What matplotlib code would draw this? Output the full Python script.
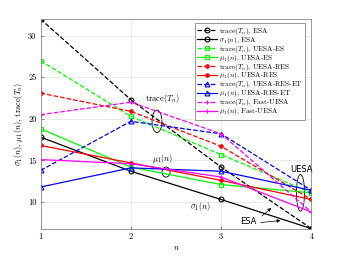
import numpy as np
import matplotlib; matplotlib.use("Agg"); import matplotlib.pyplot as plt
from matplotlib.patches import Ellipse

plt.rcParams['font.family'] = ['cmr10', 'DejaVu Serif']
plt.rcParams['mathtext.fontset'] = 'cm'
plt.rcParams['axes.unicode_minus'] = False

n = [1, 2, 3, 4]
# values
esa_tr   = [32.0, 22.3, 14.2, 6.8]
esa_sig  = [17.8, 13.7, 10.3, 6.8]
es_tr    = [27.0, 20.3, 15.7, 11.1]
es_mu    = [18.8, 14.2, 12.1, 11.1]
res_tr   = [23.1, 20.9, 16.7, 10.3]
res_mu   = [16.8, 14.7, 12.6, 10.3]
et_tr    = [13.8, 19.7, 18.2, 11.4]
et_mu    = [11.8, 14.1, 13.7, 11.4]
fast_tr  = [20.5, 22.0, 18.2, 8.8]
fast_mu  = [15.1, 14.6, 13.0, 8.8]

series = [
    (esa_tr,  'k', 'o', '--', 'trace($T_n$), ESA', 'none'),
    (esa_sig, 'k', 'o', '-',  r'$\sigma_1(n)$, ESA', 'none'),
    (es_tr,   '#00ff00', 's', '--', 'trace($T_n$), UESA-ES', 'none'),
    (es_mu,   '#00ff00', 's', '-',  r'$\mu_1(n)$, UESA-ES', 'none'),
    (res_tr,  'r', 'o', '--', 'trace($T_n$), UESA-RES', 'r'),
    (res_mu,  'r', 'o', '-',  r'$\mu_1(n)$, UESA-RES', 'r'),
    (et_tr,   'b', '^', '--', 'trace($T_n$), UESA-RES-ET', 'none'),
    (et_mu,   'b', '^', '-',  r'$\mu_1(n)$, UESA-RES-ET', 'none'),
    (fast_tr, '#ff00ff', '+', '--', 'trace($T_n$), Fast-UESA', '#ff00ff'),
    (fast_mu, '#ff00ff', '+', '-',  r'$\mu_1(n)$, Fast-UESA', '#ff00ff'),
]

fig = plt.figure(figsize=(3.44, 2.58), dpi=100)
ax = fig.add_axes([0.118, 0.114, 0.787, 0.812])
for y, c, m, ls, lab, fc in series:
    ms = 2.5 if m == 'o' and fc != 'none' else 3.5
    ax.plot(n, y, color=c, ls=ls, marker=m, ms=ms, mfc=fc, mec=c, mew=0.8, lw=0.9, label=lab)

ax.set_xlim(1, 4); ax.set_ylim(6.8, 32.0)
ax.set_xticks([1, 2, 3, 4]); ax.set_yticks([10, 15, 20, 25, 30])
ax.tick_params(direction='in', labelsize=6, length=2.5, color='#888888', pad=3)
ax.grid(True, color='#e3e3e3', lw=0.5)
for s in ax.spines.values():
    s.set_color('#888888'); s.set_linewidth(0.6)
ax.set_xlabel('$n$', fontsize=6, labelpad=2)
ax.set_ylabel(r'$\sigma_1(n)$, $\mu_1(n)$, trace($T_n$)', fontsize=6, labelpad=2)

leg = ax.legend(loc='upper right', bbox_to_anchor=(0.977, 0.981), fontsize=5.2,
                handlelength=2.8, handletextpad=0.2, labelspacing=-0.28,
                borderpad=0.35, borderaxespad=0, fancybox=False, framealpha=1)
leg.get_frame().set_edgecolor('#888888'); leg.get_frame().set_linewidth(0.6)

# annotation ellipses and labels
for cx, cy, w, h in [(2.29, 19.7, 0.11, 2.7), (2.39, 13.6, 0.09, 1.2), (3.88, 11.1, 0.09, 4.4)]:
    ax.add_patch(Ellipse((cx, cy), w, h, fill=False, ec='k', lw=0.6))
ax.text(2.16, 22.4, 'trace($T_n$)', fontsize=6, ha='left', va='center')
ax.text(2.355, 15.2, r'$\mu_1(n)$', fontsize=6, ha='center', va='center')
ax.text(2.77, 9.5, r'$\sigma_1(n)$', fontsize=6, ha='center', va='center')
ax.text(3.89, 13.9, 'UESA', fontsize=6, ha='center', va='center', family='DejaVu Sans')
ax.text(3.30, 7.6, 'ESA', fontsize=6, ha='center', va='center', family='DejaVu Sans')
ax.annotate('', xy=(3.58, 9.5), xytext=(3.43, 8.1),
            arrowprops=dict(arrowstyle='-|>', lw=0.5, color='k', mutation_scale=5))
ax.annotate('', xy=(3.69, 7.8), xytext=(3.41, 7.5),
            arrowprops=dict(arrowstyle='-|>', lw=0.5, color='k', mutation_scale=5))

fig.savefig('out.png', dpi=100, facecolor='white')
